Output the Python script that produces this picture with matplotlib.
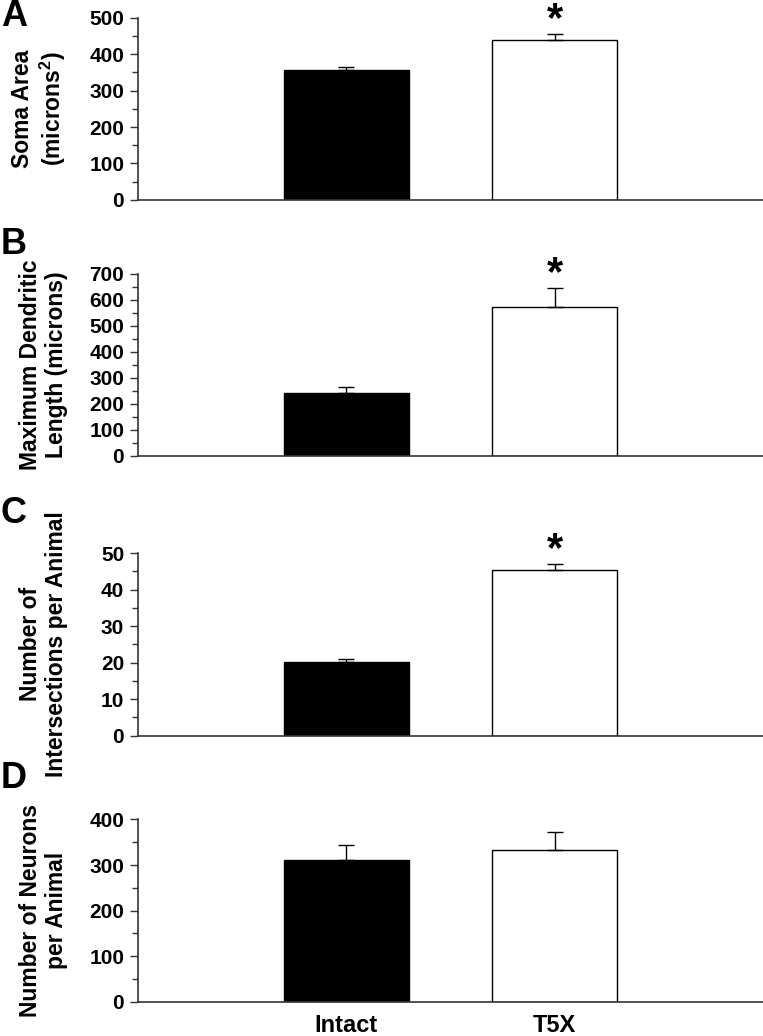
import numpy as np
import matplotlib.pyplot as plt
from matplotlib.ticker import MultipleLocator

groups = ["Intact", "T5X"]

soma_area = [357, 438]
soma_area_err = [8, 18]

max_dend_len = [240, 573]
max_dend_len_err = [25, 72]

intersections = [20.2, 45.3]
intersections_err = [0.8, 1.8]

neurons = [312, 334]
neurons_err = [32, 38]

panels = [
    ("A", "Soma Area\n(microns$^\\mathbf{2}$)", soma_area, soma_area_err, 500, 100, 50, [False, True]),
    ("B", "Maximum Dendritic\nLength (microns)", max_dend_len, max_dend_len_err, 700, 100, 50, [False, True]),
    ("C", "Number of\nIntersections per Animal", intersections, intersections_err, 50, 10, 5, [False, True]),
    ("D", "Number of Neurons\nper Animal", neurons, neurons_err, 400, 100, 50, [False, False]),
]

# axes boxes in figure fractions (left, bottom, width, height)
boxes = [
    (0.181, 0.807, 0.819, 0.176),
    (0.181, 0.560, 0.819, 0.176),
    (0.181, 0.290, 0.819, 0.176),
    (0.181, 0.033, 0.819, 0.176),
]
# letter centres, figure fraction from bottom
letter_y = [1 - 17 / 1036, 1 - 245 / 1036, 1 - 513 / 1036, 1 - 778 / 1036]

font = ["Liberation Sans", "DejaVu Sans"]
plt.rcParams["mathtext.fontset"] = "custom"
plt.rcParams["mathtext.bf"] = "Liberation Sans:bold"

fig = plt.figure(figsize=(7.63, 10.36), dpi=100)
x = np.array([1, 2])

for i, (letter, ylabel, vals, errs, ymax, major, minor, stars) in enumerate(panels):
    ax = fig.add_axes(boxes[i])
    ax.bar(x, vals, width=0.6, color=["black", "white"], edgecolor="black", linewidth=1.0, zorder=2)
    ax.errorbar(x, vals, yerr=[np.zeros(2), errs], fmt="none", ecolor="black",
                elinewidth=1.0, capsize=6, capthick=1.0, zorder=3)
    for j in range(2):
        if stars[j]:
            ax.annotate("*", (x[j], vals[j] + errs[j]), xytext=(0, 2), textcoords="offset points",
                        ha="center", va="baseline", fontsize=30, fontweight="bold", family=font)
    ax.set_xlim(0, 3)
    ax.set_ylim(0, ymax)
    ax.yaxis.set_major_locator(MultipleLocator(major))
    ax.yaxis.set_minor_locator(MultipleLocator(minor))
    ax.tick_params(axis="y", which="major", length=6, width=1, direction="out", pad=4, color="#333333")
    ax.tick_params(axis="y", which="minor", length=4, width=1, direction="out", color="#333333")
    for lab in ax.get_yticklabels():
        lab.set_family(font)
        lab.set_fontweight("bold")
        lab.set_fontsize(15)
    for s in ["top", "right"]:
        ax.spines[s].set_visible(False)
    for s in ["left", "bottom"]:
        ax.spines[s].set_color("#333333")
        ax.spines[s].set_linewidth(1.2)
    if i == 3:
        ax.set_xticks(x)
        ax.set_xticklabels(groups, family=font, fontweight="bold", fontsize=17)
        ax.tick_params(axis="x", length=0, pad=9)
    else:
        ax.set_xticks([])
    ax.set_ylabel(ylabel, family=font, fontweight="bold", fontsize=16.5, linespacing=1.15)
    ax.yaxis.set_label_coords(-0.112, 0.5)
    fig.text(0.001, letter_y[i], letter, family=font, fontweight="bold", fontsize=26,
             ha="left", va="center")

fig.savefig("out.png", dpi=100)
